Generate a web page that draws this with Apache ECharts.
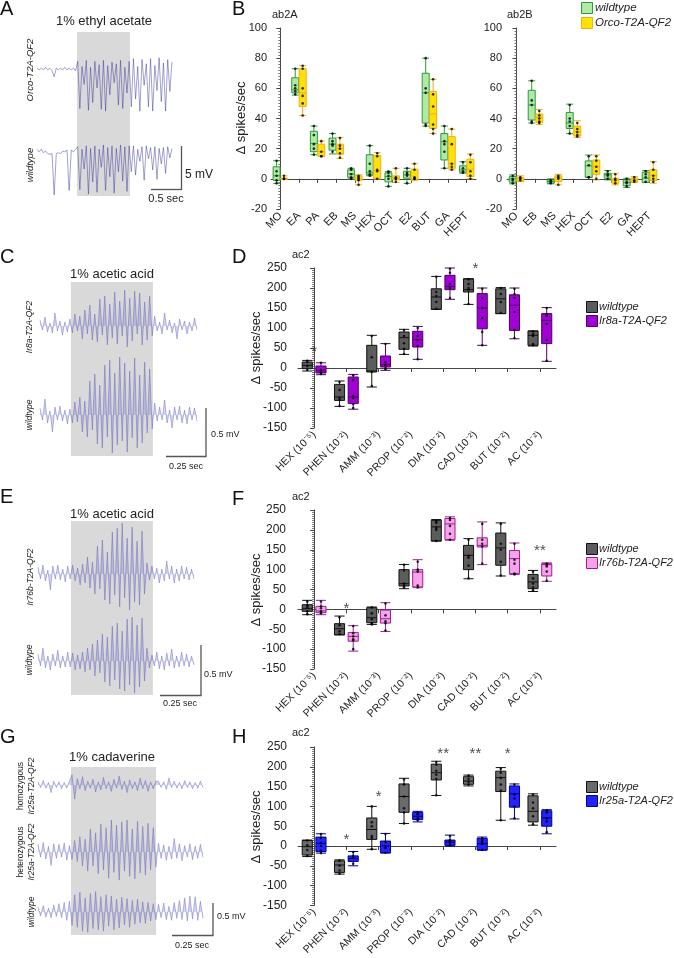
<!DOCTYPE html>
<html><head><meta charset="utf-8">
<script src="https://cdn.jsdelivr.net/npm/echarts@6/dist/echarts.min.js"></script>
<style>html,body{margin:0;padding:0;background:#fff}#c{width:674px;height:958px}</style>
</head><body><div id="c"></div>
<script>
const FONT = '"Liberation Sans", Arial, Helvetica, sans-serif';

// ---------- Panel B data (ab2A / ab2B) : [min, Q1, median, Q3, max]
const catsAb2A = ['MO','EA','PA','EB','MS','HEX','OCT','E2','BUT','GA','HEPT'];
const ab2A_wt_box = [[-3,-1,2,8,12],[55.5,57,59,67,73],[16,18,23.5,31.5,35],[16.5,19,23,27,30],[0,1,3.3,6,7],[2,2.6,4,16,22],[-5,-2,1.5,4,4.8],[-3,0.4,2.6,5,7],[35,37,57,70,80],[7,12.5,24.6,30,35],[3.7,4.4,6,8.6,11.4]];
const ab2A_orco_box = [[-0.5,0,0,0.5,2],[42,48,57,73,75],[15,15,18,23,25],[13.6,16.3,20,23,27.5],[-4,-1,0,2,2.6],[0,0,5.5,15.4,17.4],[-2.4,-0.7,0.4,2,7],[-1,-0.7,0,6.4,10],[30,33.4,43,58,66],[6,7,10,28,33],[0,1.5,6.4,13,16.5]];
const ab2A_wt_dots = [[12,5,2,-1,-3],[73,62,60,58,56],[35,29,23,20,16],[30,25,23,22,18],[7,6,3,1,0],[22,10,5,3,2],[5,4,2,0,-5],[7,4,3,2,-3],[80,60,57,36,35],[35,25,23,18,7],[11,7,5,4]];
const ab2A_orco_dots = [[2,0,0,0],[75,73,60,55,50,42],[25,18,15,15],[27,22,20,17,14],[2,1,0,-1,-4],[17,15,6,5,0],[7,1,0,0,-2],[10,6,1,0,0],[66,56,48,36,33,30],[33,23,10,8,6],[16,11,5,2,0]];

const catsAb2B = ['MO','EB','MS','HEX','OCT','E2','GA','HEPT'];
const ab2B_wt_box = [[-3.3,-2.2,0,1.5,2.6],[37,39,49,58.7,65],[-3.3,-2.9,-1.8,-0.7,0],[30,33.4,37,44,49.5],[1,1,8.6,11.9,15.8],[-0.7,0.4,2.6,3.7,5.5],[-5.7,-4.6,-2.4,-0.7,0.4],[-2.4,-2.4,0.4,4.4,5.5]];
const ab2B_orco_box = [[-1.8,-1.8,0,1,2],[36,37.4,40.7,43,46],[-4,-1.8,0.4,2,3],[27.5,28.4,31.2,35,38.5],[-0.7,3,8,12.5,15.8],[-4,-2.9,-0.7,0.4,3.7],[-2.4,-1.8,-0.7,0.4,1.5],[-2.9,-1.1,2.2,6,11.4]];
const ab2B_wt_dots = [[2,0,-1,-3],[65,52,49,38,37],[-1,-2,-3],[49,40,38,35,30],[15,9,1,1],[5,3,2,0],[0,-2,-3,-5],[5,3,1,-2]];
const ab2B_orco_dots = [[1,0,-1],[45,42,40,38,37],[2,1,0,-4],[37,33,31,29,28],[15,12,8,5,0],[3,0,-1,-3],[1,-1,-2],[11,6,2,0,-2]];

// ---------- ac2 panels D, F, H
const catsAc2 = ['HEX (10⁻⁵)','PHEN (10⁻²)','AMM (10⁻³)','PROP (10⁻²)','DIA (10⁻²)','CAD (10⁻²)','BUT (10⁻²)','AC (10⁻²)'];
const D_wt_box = [[-7.5,-1.7,6.7,15,19],[-96,-81,-72.5,-41,-32.5],[-47.5,-10,-7.5,56.7,81.7],[34,46.7,75.8,90,96.7],[146.7,146.7,177.5,198,229],[159,190,196,223,223],[136,136,173,198,201],[55,56.7,81.7,92.5,92.5]];
const D_ir8a_box = [[-16.7,-12.5,-6,5,13],[-103,-89,-72.5,-22.5,-16],[-5.8,2.5,8.3,30,61],[21.7,52.5,70.8,91.7,104],[171.7,195.8,204,231.7,250],[56.7,98,150,186,200],[73,94,157,183,200],[16.7,61,119,136,151]];
const D_wt_dots = [[18,15,5,-5],[-35,-55,-75,-80,-95],[80,27,-10,-45],[95,80,62,48,35],[228,190,180,165,148],[222,210,200,195,160],[200,185,165,138],[92,85,80,60,57]];
const D_ir8a_dots = [[13,-5,-8,-12,-15],[-18,-30,-70,-75,-90,-100],[60,15,8,0,-3],[100,80,70,55,22],[248,238,210,200,175],[198,175,150,125,90,57],[198,185,175,140,95,75],[150,135,130,110,70,18]];
const D_star_cat = [0,5];
const D_star_val = [40,247];
const D_star_txt = ['*','*'];

const F_wt_box = [[-13.4,-5,1.7,11.8,22.7],[-64,-64,-48.7,-36,-16.8],[-37.8,-33.6,-21,4.2,5.9],[52,58.8,64.7,100,113],[172,172,207.6,224,226],[77,100,136,161,178],[84,111,154.6,192,217.6],[45,52,69,88,98]];
const F_ir76b_box = [[-13.4,-8.4,-4,7.6,22.7],[-105,-80,-68,-58,-41],[-55.5,-34.5,-23.5,-1.7,16.8],[54.6,56.3,94,100,125],[174,175.6,215,228.6,232.8],[112.6,157,161,180,220],[88,90,127.7,148,167],[70.6,84,112.6,115,117]];
const F_wt_dots = [[20,10,5,-5,-12],[-20,-40,-55,-62],[5,-10,-25,-35,-38],[112,98,65,60,55],[222,218,205,200,172],[175,135,130,110,78],[215,165,150,120,85],[95,78,65,55,48]];
const F_ir76b_dots = [[20,8,3,-5,-10],[-42,-60,-68,-75,-78,-100],[15,-15,-30,-35,-53],[120,100,95,60,55],[230,225,210,190,175],[215,175,165,158,115],[165,125,115,90,88],[115,112,108,95,72]];
const F_star_cat = [1,7];
const F_star_val = [1,147];
const F_star_txt = ['*','**'];

const H_wt_box = [[-26.7,-23,-1.7,14,15],[-71,-66.7,-48,-37.5,-35],[-8.3,16.7,41.7,70.8,100],[56.7,85,125,156.7,171],[127.5,166.7,185,206.7,214],[151.7,155.8,164,175,179],[65,137.5,172.5,189,198],[52.5,60.8,87.5,126.7,131.7]];
const H_ir25a_box = [[-18,-14,6.7,22.5,30.8],[-50,-39,-31.7,-25,-14],[-18,-16.7,0,12.5,31.7],[60.8,66.7,75,85,87.5],[0,1.7,10,15,27.5],[-10.8,-10,5.8,19,22.5],[68.3,98,131.7,151.7,156.7],[30.8,50,70.8,89,91.7]];
const H_wt_dots = [[14,2,-10,-25],[-37,-50,-62,-70],[100,60,50,25,20,-8],[168,155,125,95,85,57],[212,205,190,180,170,128],[178,170,162,155],[195,185,172,155,140,65],[130,110,95,75,55]];
const H_ir25a_dots = [[30,20,8,0,-12,-18],[-15,-25,-30,-45],[30,10,0,-5,-17],[85,80,70,65],[25,15,12,8,2],[20,15,10,5,-10],[155,130,120,100,70],[90,85,70,62,35]];
const H_star_cat = [1,2,4,5,6];
const H_star_val = [15,125,232,232,232];
const H_star_txt = ['*','*','**','**','*'];

// ---------- Recording traces (mV deflection from baseline, read at successive time samples)
const A_orco = [0.1,-0.1,0.1,-0.1,0.2,-0.1,0.1,-0.2,-0.9,0.1,-0.1,0.1,-0.1,0.2,-0.1,0.1,-0.1,0.1,-0.2,
 0.9,-4.6,0.3,-1.8,1.0,-4.8,0.2,-3.9,0.9,-2.2,0.5,-4.7,1.0,-4.9,0.4,-3.0,0.8,-1.6,0.6,-4.2,1.0,-4.6,0.2,-2.8,0.9,-4.4,
 1.2,-3.5,0.3,-4.9,1.1,-1.9,0.6,-4.4,1.2,-4.9,0.4,-2.5,1.3,-3.8,0.7,-4.9,1.1,-2.6,0.8];
const A_wt = [0.2,-0.1,0.2,-0.2,0.0,-0.3,-0.4,-0.3,-5.1,-0.3,-0.2,-0.3,0.0,-0.1,0.1,-4.6,0.1,-0.1,0.2,
 0.5,-4.5,0.2,-2.1,0.6,-5.0,0.3,-3.6,0.6,-4.8,0.2,-1.9,0.7,-4.6,0.4,-3.0,0.6,-4.9,0.3,-2.4,0.7,-3.5,0.5,-4.7,0.6,-2.4,
 0.6,-2.8,0.2,-1.2,0.5,-3.4,0.6,-0.9,0.4,-2.2,0.5,-3.3,0.3,-1.5,0.4,-2.6,0.5,-0.8,0.3];
const C_ir8a = [0.06,-0.04,0.09,-0.06,0.03,-0.07,0.13,-0.05,0.05,-0.09,0.04,-0.06,0.07,
 -0.07,0.12,-0.05,0.10,-0.13,0.16,-0.08,0.21,-0.14,0.12,-0.16,0.27,-0.09,0.30,-0.19,0.22,-0.12,0.34,-0.18,0.25,-0.10,0.36,-0.21,0.28,-0.15,0.35,-0.08,0.33,-0.19,0.24,-0.14,0.30,-0.10,
 0.10,-0.05,0.04,-0.08,0.13,-0.04,0.06,-0.07,0.03,-0.13,0.07,-0.04,0.05,-0.08,0.04,-0.05,0.08,-0.04];
const C_wt = [0.07,-0.05,0.16,-0.08,0.04,-0.17,0.08,-0.05,0.09,-0.06,0.05,-0.09,0.06,
 -0.08,0.13,-0.07,0.18,-0.17,0.14,-0.22,0.34,-0.15,0.41,-0.29,0.30,-0.33,0.50,-0.22,0.55,-0.38,0.42,-0.30,0.58,-0.26,0.52,-0.37,0.44,-0.23,0.57,-0.33,0.40,-0.28,0.53,-0.18,0.46,-0.14,
 0.12,-0.06,0.08,-0.05,0.15,-0.08,0.05,-0.13,0.08,-0.05,0.09,-0.08,0.05,-0.09,0.08,-0.05,0.07,-0.06];
const E_ir76b = [0.07,-0.05,0.09,-0.07,0.04,-0.16,0.08,-0.05,0.09,-0.06,0.05,-0.08,0.08,-0.05,
 0.09,-0.07,0.06,-0.11,0.10,-0.09,0.17,-0.14,0.12,-0.20,0.28,-0.15,0.34,-0.26,0.22,-0.30,0.42,-0.21,0.46,-0.33,0.51,-0.24,0.36,-0.36,0.47,-0.28,0.33,-0.31,0.43,-0.20,
 0.11,-0.06,0.08,-0.05,0.06,-0.09,0.05,-0.07,0.13,-0.05,0.08,-0.09,0.05,-0.07,0.08,-0.05,0.07,-0.06,0.05,-0.05];
const E_wt = [0.07,-0.05,0.13,-0.07,0.05,-0.09,0.07,-0.05,0.11,-0.07,0.05,-0.06,0.09,-0.06,
 0.08,-0.09,0.06,-0.08,0.09,-0.11,0.13,-0.09,0.17,-0.15,0.21,-0.12,0.27,-0.21,0.24,-0.25,0.35,-0.19,0.38,-0.28,0.30,-0.30,0.42,-0.24,0.44,-0.32,0.36,-0.26,0.43,-0.20,
 0.13,-0.07,0.06,-0.05,0.09,-0.08,0.05,-0.09,0.08,-0.05,0.12,-0.07,0.05,-0.06,0.09,-0.05,0.07,-0.06,0.05,-0.04];
const G_homo = [0.05,-0.04,0.07,-0.05,0.04,-0.12,0.06,-0.04,0.05,-0.06,0.04,-0.05,0.06,
 0.16,-0.22,0.10,-0.06,0.13,-0.09,0.06,-0.05,0.09,-0.11,0.05,-0.08,0.12,-0.06,0.05,-0.10,0.09,-0.05,0.14,-0.07,0.06,-0.12,0.08,-0.06,0.05,-0.09,0.11,-0.06,0.07,-0.10,0.05,-0.06,0.06,
 0.06,-0.04,0.05,-0.07,0.11,-0.04,0.06,-0.05,0.04,-0.06,0.07,-0.04,0.05,-0.06,0.04,-0.05,0.06,-0.04];
const G_het = [0.12,-0.08,0.15,-0.11,0.09,-0.21,0.13,-0.10,0.12,-0.08,0.14,-0.13,0.10,
 -0.12,0.18,-0.15,0.24,-0.22,0.20,-0.30,0.36,-0.22,0.30,-0.34,0.44,-0.28,0.38,-0.41,0.50,-0.32,0.42,-0.44,0.47,-0.30,0.50,-0.38,0.36,-0.42,0.48,-0.33,0.40,-0.36,0.45,-0.28,0.38,-0.24,
 0.14,-0.10,0.11,-0.13,0.09,-0.11,0.21,-0.10,0.13,-0.14,0.10,-0.08,0.13,-0.12,0.09,-0.10,0.12,-0.09];
const G_wt = [0.08,-0.06,0.10,-0.08,0.06,-0.09,0.11,-0.07,0.13,-0.09,0.15,-0.13,0.17,
 -0.21,0.27,-0.24,0.31,-0.30,0.22,-0.32,0.29,-0.26,0.32,-0.28,0.24,-0.30,0.27,-0.22,0.25,-0.28,0.20,-0.25,0.23,-0.20,0.21,-0.24,0.18,-0.19,0.20,-0.17,0.16,-0.18,0.15,-0.14,0.13,-0.12,
 0.12,-0.09,0.14,-0.12,0.09,-0.13,0.15,-0.10,0.18,-0.12,0.22,-0.14,0.25,-0.11,0.24,-0.13,0.17,-0.10];
// stimulus on/off (sample index)
const stimA = [18.7, 43.4];
const stimC = [12.4, 45.3];
const stimE = [13.3, 46.4];
const stimG = [12.6, 45.1];

// ---------------------------------------------------------------
const grid = [], xAxis = [], yAxis = [], series = [], graphic = [];

function addBoxPanel(p) {
  const gi = grid.length;
  grid.push({left: p.left, top: p.top, width: p.width, height: p.height});
  const xc = xAxis.length;
  xAxis.push({type: 'category', gridIndex: gi, data: p.cats, boundaryGap: true,
    axisLine: {show: true, lineStyle: {color: '#444', width: 1}},
    axisTick: {show: true, alignWithLabel: true, length: 4, lineStyle: {color: '#444'}},
    axisLabel: {rotate: 45, fontSize: p.xfs, color: '#222', margin: 5, interval: 0, fontFamily: FONT},
    splitLine: {show: false}});
  const xv = xAxis.length;
  xAxis.push({type: 'value', gridIndex: gi, min: -0.5, max: p.cats.length - 0.5, show: false});
  const yi = yAxis.length;
  yAxis.push({type: 'value', gridIndex: gi, min: p.min, max: p.max, interval: p.interval, offset: p.yoff || 0,
    axisLine: {show: true, lineStyle: {color: '#444'}},
    axisTick: {show: true, length: 4, lineStyle: {color: '#444'}},
    minorTick: {show: true, splitNumber: p.minorSplit, length: 2, lineStyle: {color: '#777'}},
    axisLabel: {fontSize: p.yfs, color: '#222', margin: 4, fontFamily: FONT},
    splitLine: {show: false}, minorSplitLine: {show: false}});
  const band = p.width / p.cats.length;
  const avail = band * 0.8 - 2, gap = avail / 2 * 0.3, bw = (avail - gap) / 2;
  const off = (bw / 2 - avail / 2) / band;
  [p.a, p.b].forEach(s => {
    series.push({type: 'boxplot', xAxisIndex: xc, yAxisIndex: yi, data: s.box, silent: true, z: 3,
      itemStyle: {color: s.fill, borderColor: s.stroke, borderWidth: 1}});
  });
  [p.a, p.b].forEach((s, k) => {
    const o = k === 0 ? off : -off;
    const d = [];
    s.dots.forEach((arr, i) => arr.forEach(v => d.push([i + o, v])));
    series.push({type: 'scatter', xAxisIndex: xv, yAxisIndex: yi, data: d, symbolSize: 2.6, silent: true, z: 5,
      itemStyle: {color: '#000'}});
  });
  if (p.stars) {
    series.push({type: 'scatter', xAxisIndex: xv, yAxisIndex: yi, clip: false, silent: true, z: 6,
      data: p.stars.cat.map((c, i) => [c, p.stars.val[i], p.stars.txt[i]]),
      symbolSize: 1, itemStyle: {color: 'rgba(0,0,0,0)'},
      label: {show: true, position: 'inside', formatter: q => q.value[2], fontSize: 15, color: '#222', fontFamily: FONT}});
  }
}

const TRACE_LINE = 'rgba(70,70,178,0.7)';
const TRACE_FILL = 'rgba(110,110,205,0.42)';
function addTracePanel(t) {
  const gi = grid.length;
  grid.push({left: t.left, top: t.rectTop, width: t.width, height: t.rectH});
  const xb = xAxis.length; xAxis.push({type: 'value', gridIndex: gi, min: 0, max: 63, show: false});
  const yb = yAxis.length; yAxis.push({type: 'value', gridIndex: gi, min: 0, max: 1, show: false});
  series.push({type: 'line', xAxisIndex: xb, yAxisIndex: yb, data: [[0, 0.5], [63, 0.5]], showSymbol: false,
    lineStyle: {width: 0, opacity: 0}, silent: true, z: 0,
    markArea: {silent: true, itemStyle: {color: '#d9d9d9'}, data: [[{xAxis: t.stim[0]}, {xAxis: t.stim[1]}]]}});
  t.rows.forEach(r => {
    const g = grid.length;
    grid.push({left: t.left, top: r.base - r.ymax * t.ppm, width: t.width, height: (r.ymax - r.ymin) * t.ppm});
    const xi = xAxis.length; xAxis.push({type: 'value', gridIndex: g, min: 0, max: r.data.length - 1, show: false});
    const yi = yAxis.length; yAxis.push({type: 'value', gridIndex: g, min: r.ymin, max: r.ymax, show: false});
    series.push({type: 'line', xAxisIndex: xi, yAxisIndex: yi, data: r.data.map((v, i) => [i, v]),
      showSymbol: false, silent: true, z: 2, clip: false,
      lineStyle: {color: r.color || TRACE_LINE, width: r.w || 0.5},
      areaStyle: r.noFill ? null : {color: TRACE_FILL, origin: 'auto'}});
  });
}

// Box panels
const GREEN = {fill: '#aee9a6', stroke: '#2f9a3a'}, YELLOW = {fill: '#ffe203', stroke: '#efae1c'};
addBoxPanel({left: 271, top: 28, width: 205, height: 181, cats: catsAb2A, min: -20, max: 100, interval: 20, minorSplit: 10, yfs: 11, xfs: 11,
  a: Object.assign({box: ab2A_wt_box, dots: ab2A_wt_dots}, GREEN), b: Object.assign({box: ab2A_orco_box, dots: ab2A_orco_dots}, YELLOW)});
addBoxPanel({left: 507, top: 28, width: 152, height: 181, cats: catsAb2B, min: -20, max: 100, interval: 20, minorSplit: 10, yfs: 11, xfs: 11, yoff: 1,
  a: Object.assign({box: ab2B_wt_box, dots: ab2B_wt_dots}, GREEN), b: Object.assign({box: ab2B_orco_box, dots: ab2B_orco_dots}, YELLOW)});
const GRAY = {fill: '#5c5c5c', stroke: '#111'};
addBoxPanel({left: 298, top: 268, width: 258, height: 160, cats: catsAc2, min: -150, max: 250, interval: 50, minorSplit: 10, yfs: 12, xfs: 10.5, yoff: 7,
  a: Object.assign({box: D_wt_box, dots: D_wt_dots}, GRAY), b: {box: D_ir8a_box, dots: D_ir8a_dots, fill: '#a100d6', stroke: '#4d0066'},
  stars: {cat: D_star_cat, val: D_star_val, txt: D_star_txt}});
addBoxPanel({left: 298, top: 510, width: 258, height: 159, cats: catsAc2, min: -150, max: 250, interval: 50, minorSplit: 10, yfs: 12, xfs: 10.5, yoff: 8,
  a: Object.assign({box: F_wt_box, dots: F_wt_dots}, GRAY), b: {box: F_ir76b_box, dots: F_ir76b_dots, fill: '#f7a3ec', stroke: '#9b1f93'},
  stars: {cat: F_star_cat, val: F_star_val, txt: F_star_txt}});
addBoxPanel({left: 298, top: 747, width: 258, height: 160, cats: catsAc2, min: -150, max: 250, interval: 50, minorSplit: 10, yfs: 12, xfs: 10.5, yoff: 7,
  a: {box: H_wt_box, dots: H_wt_dots, fill: '#6b6b6b', stroke: '#111'}, b: {box: H_ir25a_box, dots: H_ir25a_dots, fill: '#2323ff', stroke: '#00008c'},
  stars: {cat: H_star_cat, val: H_star_val, txt: H_star_txt}});

// Trace panels
addTracePanel({left: 37, width: 135, rectTop: 32, rectH: 164, stim: stimA, ppm: 8.6, rows: [
  {base: 69, ymin: -6, ymax: 2, data: A_orco, color: 'rgba(45,45,150,0.75)', w: 0.6, noFill: true},
  {base: 151, ymin: -6, ymax: 2, data: A_wt, color: 'rgba(45,45,150,0.75)', w: 0.6, noFill: true}]});
addTracePanel({left: 40, width: 157, rectTop: 282, rectH: 174, stim: stimC, ppm: 100, rows: [
  {base: 326, ymin: -0.5, ymax: 0.7, data: C_ir8a}, {base: 415, ymin: -0.5, ymax: 0.7, data: C_wt}]});
addTracePanel({left: 38, width: 156, rectTop: 521, rectH: 174, stim: stimE, ppm: 100, rows: [
  {base: 574, ymin: -0.5, ymax: 0.7, data: E_ir76b}, {base: 661, ymin: -0.5, ymax: 0.7, data: E_wt}]});
addTracePanel({left: 38, width: 165, rectTop: 767, rectH: 168, stim: stimG, ppm: 64, rows: [
  {base: 785, ymin: -0.6, ymax: 0.6, data: G_homo}, {base: 852, ymin: -0.6, ymax: 0.6, data: G_het}, {base: 912, ymin: -0.6, ymax: 0.6, data: G_wt}]});

// ---------- graphic: texts, legends, scale bars
function T(x, y, s, o) {
  o = o || {};
  return {type: 'text', x: x, y: y, rotation: o.rot || 0, z: 100, silent: true,
    style: {text: s, fill: o.fill || '#222', fontSize: o.fs || 12, fontFamily: FONT, fontStyle: o.it ? 'italic' : 'normal',
      align: o.al || 'left', textAlign: o.al || 'left', verticalAlign: 'middle', textVerticalAlign: 'middle'}};
}
function L(x1, y1, x2, y2, c) {
  return {type: 'line', z: 100, silent: true, shape: {x1: x1, y1: y1, x2: x2, y2: y2}, style: {stroke: c || '#555', lineWidth: 1.3}};
}
function R(x, y, w, h, fill, stroke) {
  return {type: 'rect', z: 100, silent: true, shape: {x: x, y: y, width: w, height: h}, style: {fill: fill, stroke: stroke, lineWidth: 1}};
}
const P = Math.PI / 2;
graphic.push(
  T(0, 9, 'A', {fs: 20, fill: '#111'}), T(232, 9, 'B', {fs: 20, fill: '#111'}),
  T(0, 257, 'C', {fs: 20, fill: '#111'}), T(232, 257, 'D', {fs: 20, fill: '#111'}),
  T(0, 497, 'E', {fs: 20, fill: '#111'}), T(232, 499, 'F', {fs: 20, fill: '#111'}),
  T(0, 737, 'G', {fs: 20, fill: '#111'}), T(232, 737, 'H', {fs: 20, fill: '#111'}),
  // titles
  T(272, 15, 'ab2A', {fs: 11}), T(507, 15, 'ab2B', {fs: 11}),
  T(292, 255, 'ac2', {fs: 11}), T(292, 497, 'ac2', {fs: 11}), T(292, 733, 'ac2', {fs: 11}),
  // y names
  T(241, 118, 'Δ spikes/sec', {fs: 13, rot: P, al: 'center'}),
  T(256, 348, 'Δ spikes/sec', {fs: 13, rot: P, al: 'center'}),
  T(256, 590, 'Δ spikes/sec', {fs: 13, rot: P, al: 'center'}),
  T(256, 827, 'Δ spikes/sec', {fs: 13, rot: P, al: 'center'}),
  // legends
  R(581.5, 2.5, 11, 11, GREEN.fill, GREEN.stroke), T(595, 8, 'wildtype', {it: true, fs: 11.5}),
  R(581.5, 17.5, 11, 11, YELLOW.fill, YELLOW.stroke), T(595, 23, 'Orco-T2A-QF2', {it: true, fs: 11.5}),
  R(586.5, 301.5, 11, 11, '#5c5c5c', '#111'), T(599, 307, 'wildtype', {it: true, fs: 11}),
  R(586.5, 315.5, 11, 11, '#a100d6', '#4d0066'), T(599, 321, 'Ir8a-T2A-QF2', {it: true, fs: 11}),
  R(586.5, 543.5, 11, 11, '#5c5c5c', '#111'), T(599, 549, 'wildtype', {it: true, fs: 11}),
  R(586.5, 557.5, 11, 11, '#f7a3ec', '#9b1f93'), T(599, 563, 'Ir76b-T2A-QF2', {it: true, fs: 11}),
  R(586.5, 781.5, 11, 11, '#6b6b6b', '#111'), T(599, 787, 'wildtype', {it: true, fs: 11}),
  R(586.5, 795.5, 11, 11, '#2323ff', '#00008c'), T(599, 801, 'Ir25a-T2A-QF2', {it: true, fs: 11}),
  // stimulus labels
  T(104, 21, '1% ethyl acetate', {fs: 13, al: 'center'}),
  T(112, 274, '1% acetic acid', {fs: 13, al: 'center'}),
  T(112, 514, '1% acetic acid', {fs: 13, al: 'center'}),
  T(112, 757, '1% cadaverine', {fs: 13, al: 'center'}),
  // trace labels
  T(30, 70, 'Orco-T2A-QF2', {fs: 9.5, it: true, rot: P, al: 'center'}),
  T(30, 165, 'wildtype', {fs: 9.5, it: true, rot: P, al: 'center'}),
  T(30, 327, 'Ir8a-T2A-QF2', {fs: 8.5, it: true, rot: P, al: 'center'}),
  T(30, 415, 'wildtype', {fs: 8.5, it: true, rot: P, al: 'center'}),
  T(31, 577, 'Ir76b-T2A-QF2', {fs: 8.5, it: true, rot: P, al: 'center'}),
  T(30, 660, 'wildtype', {fs: 8.5, it: true, rot: P, al: 'center'}),
  T(21, 786, 'homozygous', {fs: 8.5, rot: P, al: 'center'}),
  T(32, 786, 'Ir25a-T2A-QF2', {fs: 8.5, it: true, rot: P, al: 'center'}),
  T(21, 852, 'heterozygous', {fs: 8.5, rot: P, al: 'center'}),
  T(32, 852, 'Ir25a-T2A-QF2', {fs: 8.5, it: true, rot: P, al: 'center'}),
  T(32, 912, 'wildtype', {fs: 8.5, it: true, rot: P, al: 'center'}),
  // scale bars
  L(181.5, 146, 181.5, 189.5), L(151, 189.5, 182, 189.5), T(185, 175, '5 mV', {fs: 12}), T(166, 199, '0.5 sec', {fs: 11, al: 'center'}),
  L(206, 408, 206, 456.5), L(166, 456.5, 206.5, 456.5), T(211, 435, '0.5 mV', {fs: 9}), T(186, 467, '0.25 sec', {fs: 9, al: 'center'}),
  L(201, 645, 201, 695.5), L(160, 695.5, 201.5, 695.5), T(204, 675, '0.5 mV', {fs: 9}), T(180, 704, '0.25 sec', {fs: 9, al: 'center'}),
  L(213, 903, 213, 935.5), L(172, 935.5, 213.5, 935.5), T(217, 917, '0.5 mV', {fs: 9}), T(192, 946, '0.25 sec', {fs: 9, al: 'center'})
);

const chart = echarts.init(document.getElementById('c'), null, {renderer: 'canvas'});
chart.setOption({animation: false, backgroundColor: '#fff', textStyle: {fontFamily: FONT},
  grid: grid, xAxis: xAxis, yAxis: yAxis, series: series, graphic: graphic});
</script></body></html>
